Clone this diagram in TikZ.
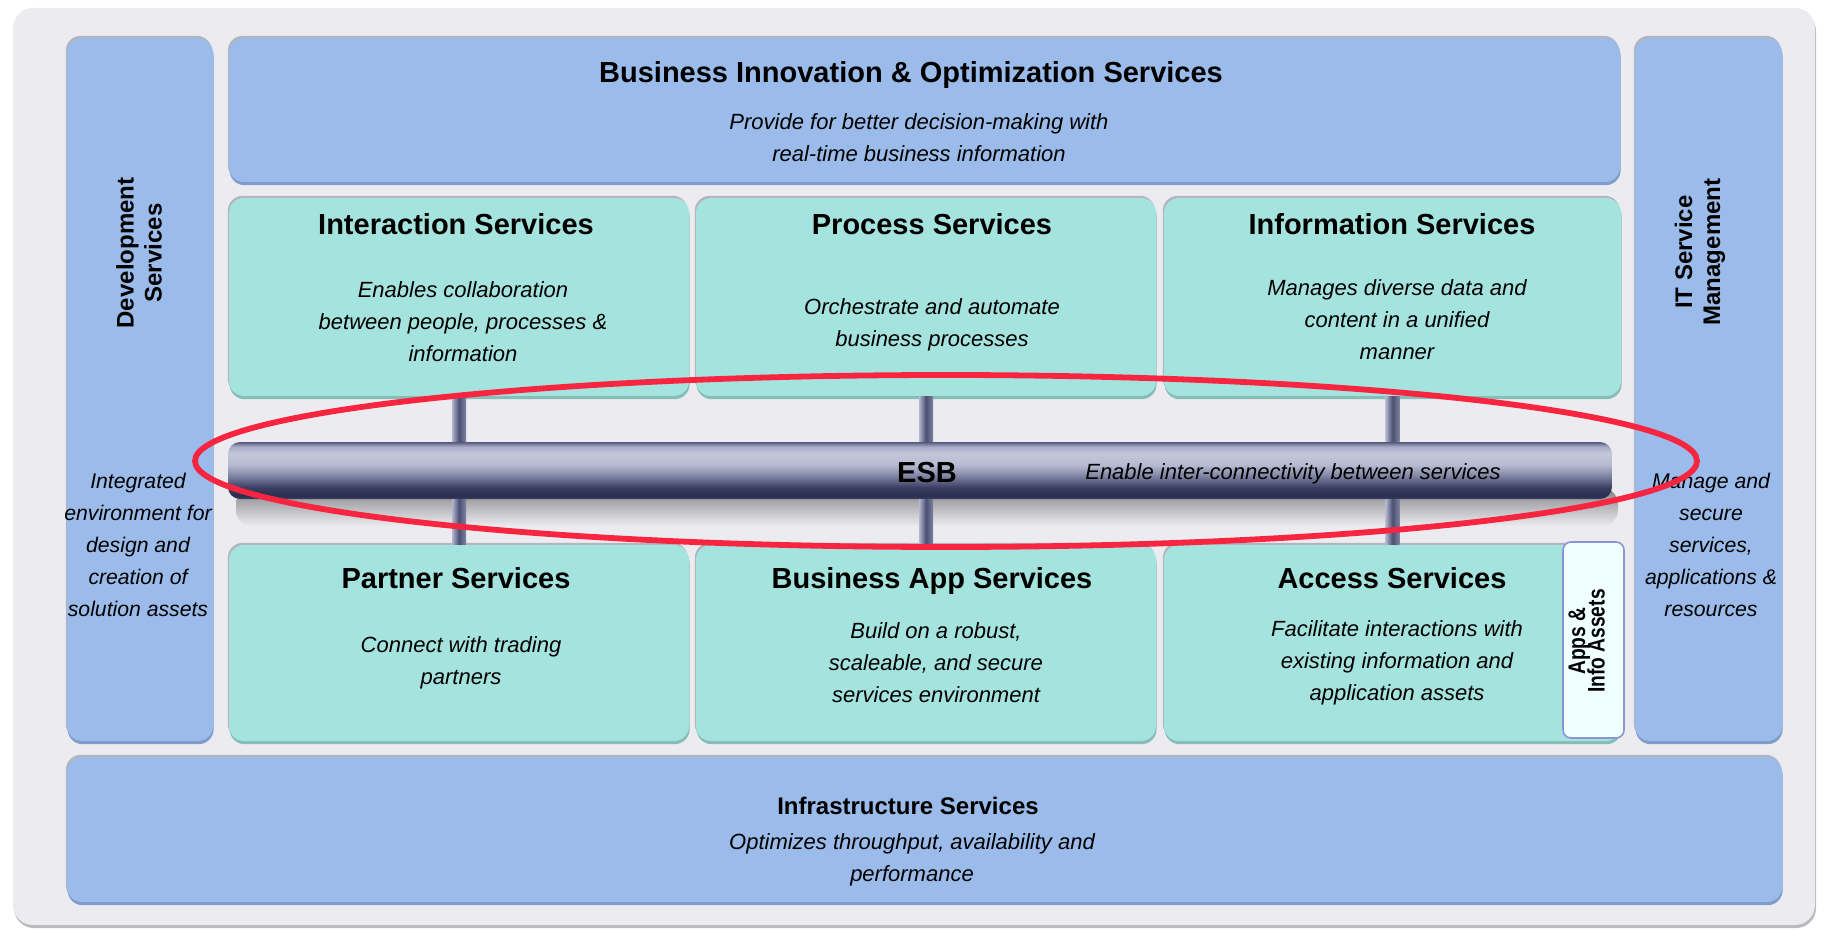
\documentclass[tikz,border=0pt]{standalone}
\usepackage{fontspec}
\setmainfont{Liberation Sans}
\usetikzlibrary{fit,calc,shapes.geometric}

\definecolor{bgpanel}{HTML}{EBEBF0}
\definecolor{blu}{HTML}{9BBCEA}
\definecolor{bluedk}{HTML}{7F9CCB}
\definecolor{teal1}{HTML}{A5E3DF}
\definecolor{tealdk}{HTML}{86BDB9}
\definecolor{rim}{HTML}{B4B4BC}
\definecolor{hl}{HTML}{F82540}
\definecolor{appsfill}{HTML}{F0FFFF}
\definecolor{appsline}{HTML}{8C94D6}
\definecolor{tubedk}{HTML}{30345A}
\definecolor{tubelt}{HTML}{B4B7CF}
\definecolor{shadowgray}{HTML}{828287}

\pgfdeclareverticalshading{esbshade}{100bp}{rgb(0bp)=(0.23,0.24,0.37); rgb(25bp)=(0.23,0.24,0.37); rgb(28bp)=(0.16,0.18,0.31); rgb(35bp)=(0.23,0.24,0.38); rgb(45bp)=(0.49,0.51,0.63); rgb(55bp)=(0.72,0.73,0.82); rgb(65bp)=(0.77,0.78,0.86); rgb(71bp)=(0.66,0.67,0.78); rgb(75bp)=(0.33,0.35,0.48); rgb(100bp)=(0.33,0.35,0.48)}

\tikzset{
  boxbase/.style={inner sep=0pt, rounded corners=7.5pt,
    preaction={fill=rim, transform canvas={shift={(-0.6pt,1.1pt)}}}},
  bluebox/.style={boxbase, fill=blu,
    preaction={fill=bluedk, transform canvas={shift={(0.3pt,-1.6pt)}}}},
  tealbox/.style={boxbase, fill=teal1,
    preaction={fill=tealdk, transform canvas={shift={(0.3pt,-1.6pt)}}}},
  tube/.style={inner sep=0pt, rounded corners=6pt, shade, shading=esbshade},
  connbar/.style={left color=tubelt, right color=tubelt!60!tubedk, middle color=tubedk!80!tubelt},
  ttl/.style={font=\fontsize{14.5pt}{17pt}\selectfont\bfseries, anchor=base},
  ttlsm/.style={font=\fontsize{12pt}{14pt}\selectfont\bfseries, anchor=base},
  body/.style={font=\fontsize{11pt}{16pt}\selectfont\itshape, align=center},
  side/.style={font=\fontsize{10.6pt}{16pt}\selectfont\itshape, align=center},
  vttl/.style={font=\fontsize{12pt}{14pt}\selectfont\bfseries, align=center, rotate=90},
  ring/.style={ellipse, draw=hl, line width=2.9pt, inner sep=0pt}
}

\begin{document}
\begin{tikzpicture}[x=0.5pt,y=-0.5pt]
\fill[white] (0,0) rectangle (1825,930);
\useasboundingbox (0,0) rectangle (1825,930);

% outer panel
\node[fit={(13,8) (1815,925)}, inner sep=0pt, fill=bgpanel, rounded corners=10pt,
  preaction={fill=gray!55, transform canvas={shift={(0.5pt,-1.5pt)}}}] (panel) {};

% boxes
\node[bluebox, fit={(67,38) (213,741)}] (dev) {};
\node[bluebox, fit={(229,38) (1620,182)}] (bio) {};
\node[bluebox, fit={(1635,38) (1782,741)}] (itsm) {};
\node[tealbox, fit={(229,198) (689,396)}] (int) {};
\node[tealbox, fit={(696,198) (1156,396)}] (proc) {};
\node[tealbox, fit={(1164,198) (1621,396)}] (info) {};
\node[tealbox, fit={(229,545) (689,741)}] (partner) {};
\node[tealbox, fit={(696,545) (1156,741)}] (bapp) {};
\node[tealbox, fit={(1164,545) (1621,741)}] (access) {};
\node[fit={(1563,542) (1624,738)}, inner sep=0pt, rounded corners=4pt, fill=appsfill,
  draw=appsline, line width=0.8pt] (apps) {};
\node[bluebox, fit={(67,757) (1782,902)}] (infra) {};

% soft shadow under the ESB tube
\shade[top color=shadowgray, bottom color=bgpanel, rounded corners=8pt] (236,488) rectangle (1618,526);

% ESB tube
\node[tube, fit={(228,442) (1612,499)}] (esb) {};

% connector bars
\foreach \b in {int,proc,info}{
  \shade[connbar] ($(\b.south)+(-7,0)$) rectangle ($(esb.north -| \b.south)+(7,0)$);
}
\foreach \b in {partner,bapp,access}{
  \shade[connbar] ($(esb.south -| \b.north)+(-7,0)$) rectangle ($(\b.north)+(7,0)$);
}

% texts
\node[ttl] (biot) at (911,83) {Business Innovation \& Optimization Services};
\node[body] (biob) at (919,138) {Provide for better decision-making with\\real-time business information};

\node[ttl] (intt) at (456,235) {Interaction Services};
\node[body] (intb) at (463,322) {Enables collaboration\\between people, processes \&\\information};
\node[ttl] (proct) at (932,235) {Process Services};
\node[body] (procb) at (932,325) {Orchestrate and automate\\business processes};
\node[ttl] (infot) at (1392,235) {Information Services};
\node[body] (infob) at (1397,320) {Manages diverse data and\\content in a unified\\manner};

\node[ttl] (esbt) at (927,482) {ESB};
\node[body] (esbb) at (1293,474) {Enable inter-connectivity between services};

\node[ttl] (partt) at (456,588) {Partner Services};
\node[body] (partb) at (461,663) {Connect with trading\\partners};
\node[ttl] (bappt) at (932,588) {Business App Services};
\node[body] (bappb) at (936,663) {Build on a robust,\\scaleable, and secure\\services environment};
\node[ttl] (acct) at (1392,588) {Access Services};
\node[body] (accb) at (1397,663) {Facilitate interactions with\\existing information and\\application assets};

\node[font=\fontsize{12pt}{12pt}\selectfont\bfseries, align=center, rotate=90] (appst) at (1590,641)
  {\scalebox{0.8}[1]{\begin{tabular}{@{}c@{}}Apps \&\\[-2.5pt]Info Assets\end{tabular}}};

\node[ttlsm] (infrat) at (908,814) {Infrastructure Services};
\node[body] (infrab) at (912,860) {Optimizes throughput, availability and\\performance};

\node[vttl] (devt) at (139,253) {Development\\Services};
\node[side] (devb) at (138,545) {Integrated\\environment for\\design and\\creation of\\solution assets};
\node[vttl] (itsmt) at (1700,252) {IT Service\\Management};
\node[side] (itsmb) at (1711,545) {Manage and\\secure\\services,\\applications \&\\resources};

% highlight ring
\node[ring, minimum width=751pt, minimum height=86pt] (hlring) at (946,461) {};
\end{tikzpicture}
\end{document}
